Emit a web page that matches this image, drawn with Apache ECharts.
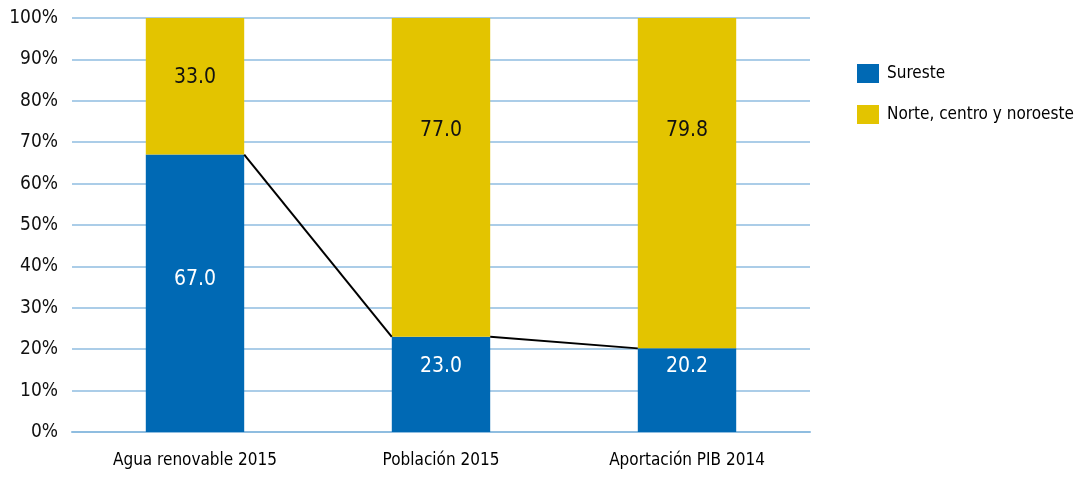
<!DOCTYPE html>
<html>
<head>
<meta charset="utf-8">
<script src="https://cdn.jsdelivr.net/npm/echarts@6/dist/echarts.min.js"></script>
<style>
  html, body { margin: 0; padding: 0; background: #fff; }
  #chart { width: 1086px; height: 481px; }
</style>
</head>
<body>
<div id="chart"></div>
<script>
const categories = ['Agua renovable 2015', 'Población 2015', 'Aportación PIB 2014']
const sureste = [67.0, 23.0, 20.2]
const norte = [33.0, 77.0, 79.8]
const yTicks = [0, 10, 20, 30, 40, 50, 60, 70, 80, 90, 100]

const blue = '#0069b4'
const yellow = '#e3c400'
const gridColor = '#8fbde0'
const narrow = '"DejaVu Sans Condensed", sans-serif'

// labels in the original are nudged up from the segment centres
const sureOffsets = [-14, -18, -24]
const norteOffsets = [-9, -47, -53]

// connector segments from the top of one blue bar to the next
const links = sureste.slice(0, -1).map((v, i) => [i, v, sureste[i + 1]])

const valueLabel = (color) => ({
    show: true,
    position: 'inside',
    color: color,
    fontFamily: narrow,
    fontSize: 21,
    formatter: p => p.value.toFixed(1)
})

const chart = echarts.init(document.getElementById('chart'))
chart.setOption({
    animation: false,
    grid: { left: 72, right: 276, top: 18, bottom: 49 },
    legend: {
        orient: 'vertical',
        left: 852,
        top: 59,
        itemWidth: 22,
        itemHeight: 19,
        itemGap: 22,
        icon: 'rect',
        data: ['Sureste', 'Norte, centro y noroeste'],
        textStyle: { fontFamily: narrow, fontSize: 17, color: '#000', padding: [0, 0, 0, 3] }
    },
    xAxis: {
        type: 'category',
        data: categories,
        axisLine: { show: true, lineStyle: { color: gridColor, width: 2 } },
        axisTick: { show: false },
        axisLabel: { fontFamily: narrow, fontSize: 17, color: '#000', margin: 20 }
    },
    yAxis: {
        type: 'value',
        min: yTicks[0],
        max: yTicks[yTicks.length - 1],
        interval: 10,
        axisLine: { show: false },
        axisTick: { show: false },
        splitLine: { lineStyle: { color: gridColor, width: 1.5 } },
        axisLabel: {
            fontFamily: narrow,
            fontSize: 19,
            color: '#111',
            margin: 14,
            formatter: v => v + '%'
        }
    },
    series: [
        {
            name: 'Sureste',
            type: 'bar',
            stack: 'total',
            barWidth: '40%',
            data: sureste.map((v, i) => ({ value: v, label: { offset: [0, sureOffsets[i]] } })),
            itemStyle: { color: blue },
            label: valueLabel('#fff')
        },
        {
            name: 'Norte, centro y noroeste',
            type: 'bar',
            stack: 'total',
            barWidth: '40%',
            data: norte.map((v, i) => ({ value: v, label: { offset: [0, norteOffsets[i]] } })),
            itemStyle: { color: yellow },
            label: valueLabel('#111')
        },
        {
            type: 'custom',
            silent: true,
            z: 5,
            data: links,
            renderItem: (params, api) => {
                const p1 = api.coord([api.value(0), api.value(1)])
                const p2 = api.coord([api.value(0) + 1, api.value(2)])
                const half = api.size([1, 0])[0] * 0.2
                return {
                    type: 'line',
                    shape: { x1: p1[0] + half, y1: p1[1], x2: p2[0] - half, y2: p2[1] },
                    style: { stroke: '#000', lineWidth: 2 }
                }
            }
        }
    ]
})
</script>
</body>
</html>
